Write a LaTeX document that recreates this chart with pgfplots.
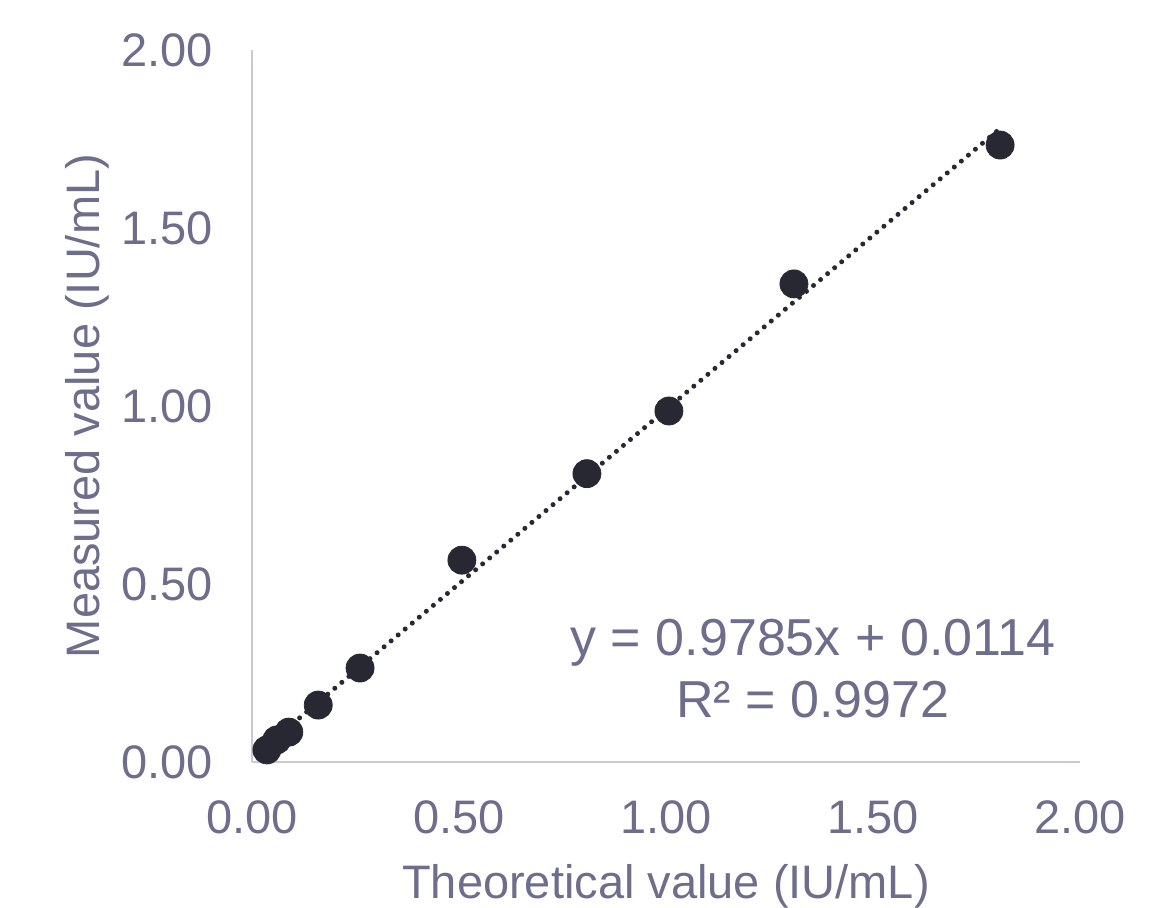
\documentclass[border=0pt]{standalone}
\usepackage{fontspec}
\setmainfont{Liberation Sans}
\usepackage{pgfplots}
\pgfplotsset{compat=1.18}
\definecolor{txt}{RGB}{110,110,140}
\definecolor{axl}{RGB}{200,200,215}
\definecolor{pt}{RGB}{40,40,50}
\begin{document}
\begin{tikzpicture}
\begin{axis}[
  scale only axis,
  width=414pt, height=356pt,
  xmin=0, xmax=2, ymin=0, ymax=2,
  axis x line=bottom, axis y line=left,
  axis line style={-, draw=axl, line width=1pt},
  xtick={0,0.5,1,1.5,2}, ytick={0,0.5,1,1.5,2},
  major tick length=0pt,
  tick style={draw=none},
  /pgf/number format/assume math mode=true,
  /pgf/number format/.cd, fixed, fixed zerofill, precision=2, /pgfplots/.cd,
  ticklabel style={font=\fontsize{23.5}{28}\selectfont, text=txt},
  xticklabel style={yshift=-16pt},
  yticklabel style={xshift=-16pt},
  xlabel={Theoretical value (IU/mL)},
  ylabel={Measured value (IU/mL)},
  label style={font=\fontsize{23.5}{28}\selectfont, text=txt},
  xlabel style={yshift=-8pt},
  ylabel style={yshift=-1pt},
  clip=false,
]
\addplot[only marks, mark=*, mark size=7pt, mark options={fill=pt, draw=pt}]
coordinates {
(0.036,0.034) (0.060,0.062) (0.089,0.084) (0.160,0.160) (0.261,0.264)
(0.507,0.567) (0.809,0.810) (1.007,0.986) (1.309,1.343) (1.807,1.733)
};
\addplot[pt, line width=2.5pt, line cap=round, dash pattern=on 0pt off 4.6pt]
coordinates {(0.03,0.0408) (1.81,1.7825)};
\node[align=center, text=txt, font=\fontsize{26}{31}\selectfont, inner sep=0pt]
  at (axis cs:1.355,0.262) {y = 0.9785x + 0.0114\\R² = 0.9972};
\coordinate (bl) at (rel axis cs:0,0);
\coordinate (tr) at (rel axis cs:1,1);
\end{axis}
\pgfresetboundingbox
\path[use as bounding box] ([xshift=-126pt,yshift=-72.5pt]bl) rectangle ([xshift=42.5pt,yshift=25pt]tr);
\end{tikzpicture}
\end{document}
